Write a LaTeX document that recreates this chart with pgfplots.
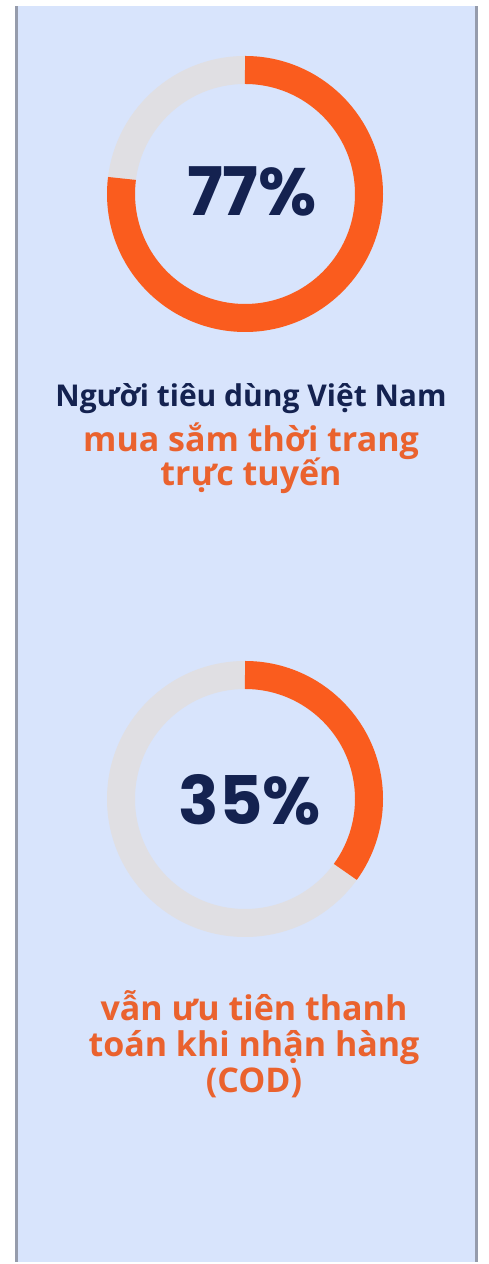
\documentclass[border=0pt]{standalone}
\usepackage{pgfplots}
\pgfplotsset{compat=1.18}
\usepackage{pgfplotstable}
\usepackage{fontspec}
\setmainfont{Open Sans}
\newfontfamily\numfont{Poppins}

\definecolor{bgblue}{RGB}{216,228,252}
\definecolor{framegray}{RGB}{150,156,172}
\definecolor{ringorange}{RGB}{250,92,30}
\definecolor{txtorange}{RGB}{234,98,46}
\definecolor{track}{RGB}{224,223,227}
\definecolor{navy}{RGB}{20,34,80}

% share of consumers, in percent
\pgfplotstableread{
item share
online 77
cod 35
}\sharetable
\pgfplotstablegetelem{0}{share}\of\sharetable \edef\shareA{\pgfplotsretval}
\pgfplotstablegetelem{1}{share}\of\sharetable \edef\shareB{\pgfplotsretval}

\pgfplotsset{donut/.style={
    scale only axis, width=276pt, height=276pt,
    xmin=-138, xmax=138, ymin=-138, ymax=138,
    hide axis, clip=false, anchor=center}}

\begin{document}
\begin{tikzpicture}[x=1pt,y=1pt]
% panel
\fill[white] (0,0) rectangle (489,1264);
\fill[bgblue] (17,2) rectangle (476,1258);
\draw[framegray, line width=3pt] (16.5,2) -- (16.5,1258);
\draw[framegray, line width=3pt] (476,2) -- (476,1258);

\begin{axis}[donut, at={(245pt,1070pt)}]
  \draw[track, line width=28pt] (axis cs:0,0) circle[radius=124pt];
  \draw[ringorange, line width=28pt] (axis cs:0,124)
      arc[start angle=90, end angle={90-3.6*\shareA}, radius=124pt];
  \node[navy, font=\numfont\bfseries\fontsize{67}{67}\selectfont] at (axis cs:7,3) {\shareA\%};
\end{axis}

\node[navy, font=\bfseries\fontsize{30}{30}\selectfont, anchor=base] at (251,857) {Người tiêu dùng Việt Nam};
\node[txtorange, font=\bfseries\fontsize{34}{34}\selectfont, anchor=base, inner sep=0pt] at (251,812) {mua sắm thời trang};
\node[txtorange, font=\bfseries\fontsize{34}{34}\selectfont, anchor=base, inner sep=0pt] at (251,778) {trực tuyến};

\begin{axis}[donut, at={(245pt,465pt)}]
  \draw[track, line width=28pt] (axis cs:0,0) circle[radius=124pt];
  \draw[ringorange, line width=28pt] (axis cs:0,124)
      arc[start angle=90, end angle={90-3.6*\shareB}, radius=124pt];
  \node[navy, font=\numfont\bfseries\fontsize{67}{67}\selectfont] at (axis cs:5,-1) {\shareB\%};
\end{axis}

\node[txtorange, font=\bfseries\fontsize{34}{34}\selectfont, anchor=base, inner sep=0pt] at (254,243) {vẫn ưu tiên thanh};
\node[txtorange, font=\bfseries\fontsize{34}{34}\selectfont, anchor=base, inner sep=0pt] at (254,207) {toán khi nhận hàng};
\node[txtorange, font=\bfseries\fontsize{34}{34}\selectfont, anchor=base, inner sep=0pt] at (254,171) {(COD)};
\end{tikzpicture}
\end{document}
